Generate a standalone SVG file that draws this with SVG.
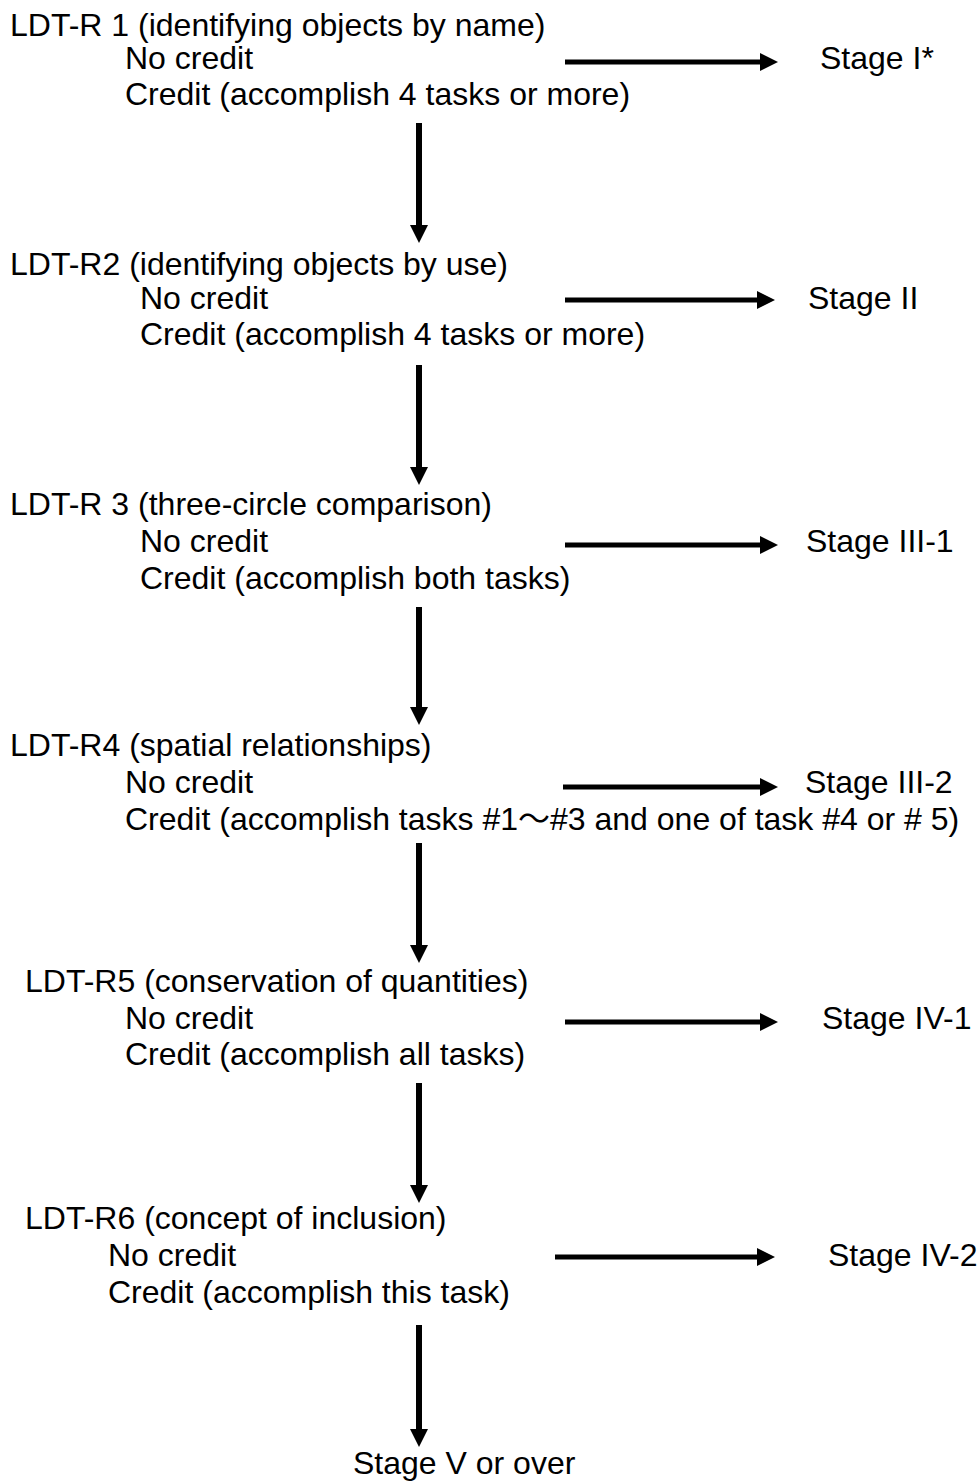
<svg xmlns="http://www.w3.org/2000/svg" width="979" height="1483" viewBox="0 0 979 1483">
<defs>
<style>
text{font-family:"Liberation Sans",Arial,"Noto Sans CJK JP",sans-serif;font-size:32px;fill:#000}
.h{stroke:#000;stroke-width:5;fill:none}
.v{stroke:#000;stroke-width:6;fill:none}
</style>
<marker id="ah" viewBox="0 0 18 18" refX="0" refY="9" markerWidth="18" markerHeight="18" markerUnits="userSpaceOnUse" orient="auto">
<path d="M0,0 L18,9 L0,18 Z" fill="#000"/>
</marker>
</defs>
<rect width="979" height="1483" fill="#fff"/>
<g id="r1">
<text x="10" y="36">LDT-R 1 (identifying objects by name)</text>
<text x="125" y="69">No credit</text>
<text x="125" y="105">Credit (accomplish 4 tasks or more)</text>
</g>
<g id="s1"><text x="820" y="69">Stage I*</text></g>
<g id="r2">
<text x="10" y="275">LDT-R2 (identifying objects by use)</text>
<text x="140" y="309">No credit</text>
<text x="140" y="345">Credit (accomplish 4 tasks or more)</text>
</g>
<g id="s2"><text x="808" y="309">Stage II</text></g>
<g id="r3">
<text x="10" y="515">LDT-R 3 (three-circle comparison)</text>
<text x="140" y="552">No credit</text>
<text x="140" y="589">Credit (accomplish both tasks)</text>
</g>
<g id="s3"><text x="806" y="552">Stage III-1</text></g>
<g id="r4">
<text x="10" y="756">LDT-R4 (spatial relationships)</text>
<text x="125" y="793">No credit</text>
<text x="125" y="830">Credit (accomplish tasks #1～#3 and one of task #4 or # 5)</text>
</g>
<g id="s4"><text x="805" y="793">Stage III-2</text></g>
<g id="r5">
<text x="25" y="992">LDT-R5 (conservation of quantities)</text>
<text x="125" y="1029">No credit</text>
<text x="125" y="1065">Credit (accomplish all tasks)</text>
</g>
<g id="s5"><text x="822" y="1029">Stage IV-1</text></g>
<g id="r6">
<text x="25" y="1229">LDT-R6 (concept of inclusion)</text>
<text x="108" y="1266">No credit</text>
<text x="108" y="1303">Credit (accomplish this task)</text>
</g>
<g id="s6"><text x="828" y="1266">Stage IV-2</text></g>
<g id="s7"><text x="353" y="1474">Stage V or over</text></g>
<g id="connectors">
<line class="h" x1="565" y1="62" x2="760" y2="62" marker-end="url(#ah)"/>
<line class="h" x1="565" y1="300" x2="757" y2="300" marker-end="url(#ah)"/>
<line class="h" x1="565" y1="545" x2="760" y2="545" marker-end="url(#ah)"/>
<line class="h" x1="563" y1="787" x2="760" y2="787" marker-end="url(#ah)"/>
<line class="h" x1="565" y1="1022" x2="760" y2="1022" marker-end="url(#ah)"/>
<line class="h" x1="555" y1="1257" x2="757" y2="1257" marker-end="url(#ah)"/>
<line class="v" x1="419" y1="123" x2="419" y2="225" marker-end="url(#ah)"/>
<line class="v" x1="419" y1="365" x2="419" y2="467" marker-end="url(#ah)"/>
<line class="v" x1="419" y1="607" x2="419" y2="707" marker-end="url(#ah)"/>
<line class="v" x1="419" y1="843" x2="419" y2="945" marker-end="url(#ah)"/>
<line class="v" x1="419" y1="1083" x2="419" y2="1185" marker-end="url(#ah)"/>
<line class="v" x1="419" y1="1325" x2="419" y2="1429" marker-end="url(#ah)"/>
</g>
</svg>
